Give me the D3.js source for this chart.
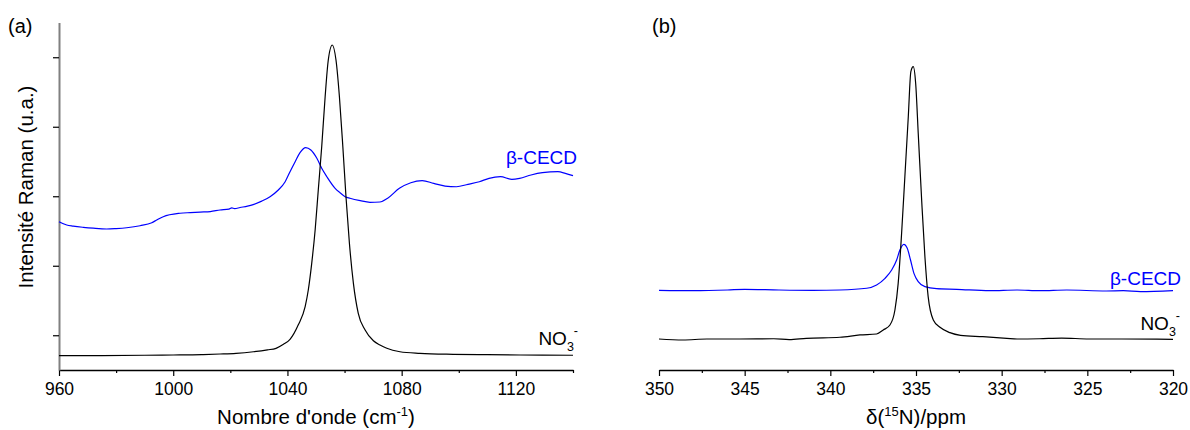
<!DOCTYPE html>
<html>
<head>
<meta charset="utf-8">
<script src="https://cdn.jsdelivr.net/npm/d3@7"></script>
<style>
  html, body { margin: 0; padding: 0; background: #fff; }
  svg { display: block; font-family: "Liberation Sans", Arial, sans-serif; }
</style>
</head>
<body>
<script>
// ---------- data ----------
// Panel (a): Raman spectra, [wavenumber cm-1, intensity a.u.]
const ramanNO3 = [
  [960,0.706],[975,0.708],[990,0.712],[1000,0.716],[1010,0.722],[1016.4,0.730],[1022,0.740],
  [1028.1,0.763],[1033,0.790],[1036,0.812],[1038.6,0.870],[1040.9,0.940],[1043.8,1.150],
  [1046.2,1.411],[1047.3,1.651],[1048.5,2.035],[1049.7,2.514],[1050.8,3.090],[1052.0,3.713],
  [1053.2,4.432],[1054.3,4.960],[1055.7,5.176],[1057.0,4.960],[1058.2,4.432],[1059.4,3.713],
  [1060.5,2.994],[1061.7,2.323],[1063.1,1.747],[1064.8,1.316],[1067.2,1.076],[1070.1,0.920],
  [1072.4,0.860],[1074.8,0.812],[1079.4,0.763],[1086.4,0.740],[1098,0.726],[1110,0.720],
  [1121.5,0.716],[1140,0.712]
];
const ramanCECD = [
  [960,2.634],[962.7,2.586],[965,2.570],[968.5,2.553],[972,2.540],[976.7,2.529],[980,2.535],[983.7,2.547],
  [988.4,2.576],[992.5,2.619],[994.2,2.658],[996.5,2.706],[1002.4,2.755],[1006,2.765],[1009.4,2.773],
  [1013,2.780],[1016.4,2.802],[1019.5,2.815],[1020.5,2.832],[1021.5,2.822],[1023.4,2.838],
  [1026,2.858],[1028,2.880],[1031,2.930],[1033.9,2.994],[1036.8,3.090],[1039.2,3.209],[1040.9,3.353],[1042.7,3.497],
  [1044.4,3.627],[1046.4,3.699],[1048.2,3.665],[1050.3,3.546],[1052.0,3.402],[1053.8,3.281],
  [1056.7,3.114],[1058.4,3.051],[1060.2,2.994],[1061.9,2.971],[1065.5,2.936],[1068.9,2.913],
  [1072.4,2.917],[1075.1,2.971],[1079.2,3.114],[1083.2,3.195],[1087.2,3.224],[1091.2,3.186],
  [1095.2,3.147],[1099.2,3.137],[1103.2,3.172],[1107.2,3.209],[1110.6,3.258],[1114.6,3.281],
  [1118.6,3.244],[1121.3,3.258],[1125.3,3.306],[1129.3,3.339],[1134.7,3.353],[1137.3,3.330],
  [1140,3.296]
];
// Panel (b): 15N NMR spectra, [chemical shift ppm, intensity a.u.]
const nmrNO3 = [
  [350,0.946],[348.6,0.932],[347.2,0.946],[345.3,0.946],[343.3,0.950],[342.4,0.936],[341.4,0.956],
  [339.44,0.971],[338.27,1.004],[337.3,1.018],[336.91,1.076],[336.52,1.147],[336.23,1.363],
  [336.04,1.747],[335.84,2.467],[335.65,3.281],[335.45,4.145],[335.30,4.792],[335.16,4.864],
  [335.02,4.625],[334.87,3.906],[334.67,2.946],[334.48,2.130],[334.29,1.555],[333.99,1.219],
  [333.6,1.114],[333.02,1.037],[332.4,0.999],[331.1,0.979],[329.7,0.956],[329.1,0.946],
  [327.8,0.950],[326.5,0.960],[324.9,0.946],[323,0.946],[320,0.942]
];
const nmrCECD = [
  [350,1.646],[348,1.641],[346,1.651],[345,1.661],[343,1.651],[341,1.646],[339.44,1.651],
  [337.88,1.676],[337.3,1.723],[336.81,1.819],[336.42,1.939],[336.13,2.083],[335.94,2.227],
  [335.71,2.309],[335.51,2.251],[335.32,2.083],[335.12,1.891],[334.87,1.771],[334.48,1.699],
  [333.8,1.670],[332.63,1.661],[330.7,1.641],[329.1,1.651],[327.77,1.641],[326.2,1.651],
  [323.9,1.637],[322.9,1.641],[321.9,1.627],[320,1.641]
];
// ticks
const ramanMajorTicks = [960, 1000, 1040, 1080, 1120];
const ramanMinorTicks = [980, 1020, 1060, 1100, 1140];
const nmrMajorTicks = [350, 345, 340, 335, 330, 325, 320];
const nmrMinorTicks = [347.5, 342.5, 337.5, 332.5, 327.5, 322.5];
const intensityTicks = [1, 2, 3, 4, 5];

// ---------- drawing ----------
const W = 1190, H = 430;
const svg = d3.select("body").append("svg").attr("width", W).attr("height", H);

const y = d3.scaleLinear().domain([0.5, 5.5]).range([370, 22.5]);
const xA = d3.scaleLinear().domain([960, 1140]).range([59, 573]);
const xB = d3.scaleLinear().domain([350, 320]).range([659, 1173]);

const BLUE = "#0000ff";
const fam = '"Liberation Sans", Arial, sans-serif';
const tickFont = "17.5px";

function drawXAxis(x, major, minor) {
  const gMin = svg.append("g").attr("transform", `translate(0,370)`)
    .call(d3.axisBottom(x).tickValues(minor).tickSize(3).tickSizeOuter(0).tickFormat(""));
  gMin.select(".domain").remove();
  gMin.selectAll("line").attr("stroke", "#000").attr("stroke-width", 1.2);
  const g = svg.append("g").attr("transform", `translate(0,370)`)
    .call(d3.axisBottom(x).tickValues(major).tickSize(6).tickSizeOuter(0).tickPadding(7).tickFormat(d3.format("d")));
  g.select(".domain").attr("stroke", "#000").attr("stroke-width", 1.3);
  g.selectAll("line").attr("stroke", "#000").attr("stroke-width", 1.2);
  g.selectAll("text").attr("fill", "#000").style("font-size", tickFont).style("font-family", fam);
}

drawXAxis(xA, ramanMajorTicks, ramanMinorTicks);
drawXAxis(xB, nmrMajorTicks, nmrMinorTicks);

// y axis of panel (a)
const gy = svg.append("g").attr("transform", `translate(59,0)`)
  .call(d3.axisLeft(y).tickValues(intensityTicks).tickSize(6).tickSizeOuter(0).tickFormat(""));
gy.select(".domain").attr("stroke", "#808080").attr("stroke-width", 2);
gy.selectAll("line").attr("stroke", "#000").attr("stroke-width", 1.2);

// lines
function drawLine(x, data, color) {
  const line = d3.line().x(d => x(d[0])).y(d => y(d[1])).curve(d3.curveMonotoneX);
  const sorted = data.slice().sort((a, b) => x(a[0]) - x(b[0]));
  svg.append("path").datum(sorted).attr("d", line)
    .attr("fill", "none").attr("stroke", color).attr("stroke-width", 1.2)
    .attr("stroke-linejoin", "round");
}
drawLine(xA, ramanCECD, BLUE);
drawLine(xA, ramanNO3, "#000");
drawLine(xB, nmrCECD, BLUE);
drawLine(xB, nmrNO3, "#000");

function label(xp, yp, txt, size, color, anchor) {
  return svg.append("text").attr("x", xp).attr("y", yp).attr("fill", color || "#000")
    .attr("text-anchor", anchor || "start").style("font-size", size).style("font-family", fam).text(txt);
}

// panel letters
label(8, 33, "(a)", "20px");
label(652, 33, "(b)", "20px");

// series labels
label(577, 164, "β-CECD", "19px", BLUE, "end");
label(1181, 285, "β-CECD", "19px", BLUE, "end");

function nitrateLabel(xEnd, yBase) {
  const t = svg.append("text").attr("x", xEnd).attr("y", yBase).attr("text-anchor", "end")
    .style("font-size", "19px").style("font-family", fam).attr("fill", "#000");
  t.append("tspan").text("NO");
  t.append("tspan").attr("dy", 6).style("font-size", "12.5px").text("3");
  t.append("tspan").attr("dy", -16).style("font-size", "12.5px").text("-");
}
nitrateLabel(578, 345);
nitrateLabel(1180, 330);

// axis titles
const tx = svg.append("text").attr("x", 316).attr("y", 424).attr("text-anchor", "middle")
  .style("font-size", "20.5px").style("font-family", fam);
tx.append("tspan").text("Nombre d'onde (cm");
tx.append("tspan").attr("dy", -8).style("font-size", "13px").text("-1");
tx.append("tspan").attr("dy", 8).text(")");

const tb = svg.append("text").attr("x", 916).attr("y", 424).attr("text-anchor", "middle")
  .style("font-size", "20.5px").style("font-family", fam);
tb.append("tspan").text("δ(");
tb.append("tspan").attr("dy", -8).style("font-size", "13px").text("15");
tb.append("tspan").attr("dy", 8).text("N)/ppm");

svg.append("text").attr("transform", "translate(33,187) rotate(-90)").attr("text-anchor", "middle")
  .style("font-size", "20.5px").style("font-family", fam).text("Intensité Raman (u.a.)");
</script>
</body>
</html>
